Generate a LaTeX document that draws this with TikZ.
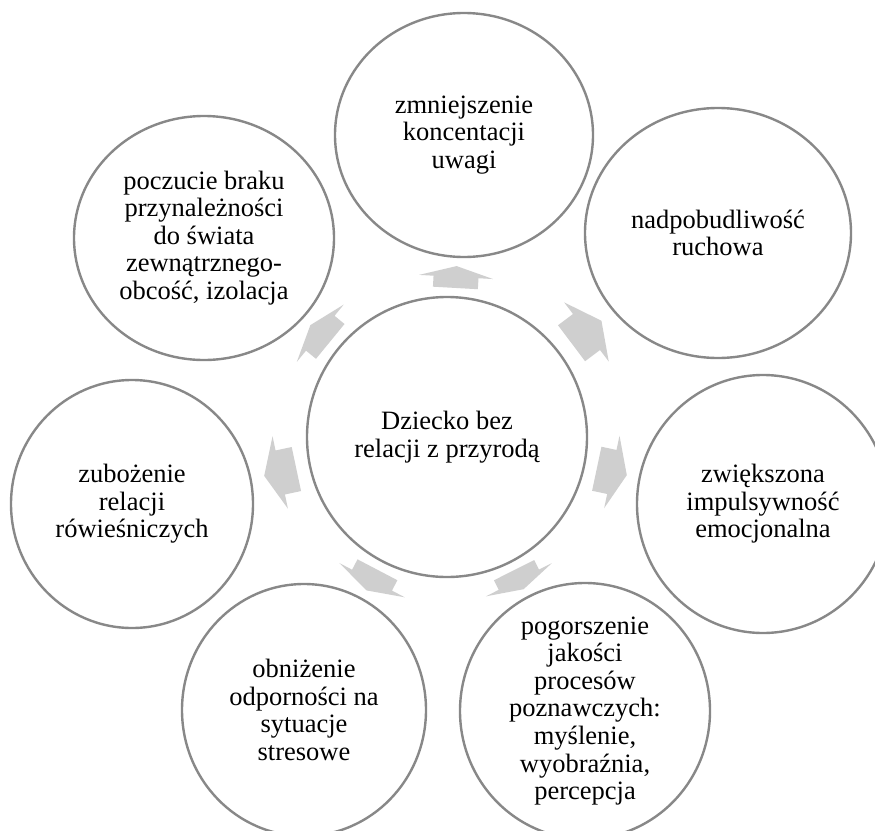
\documentclass[tikz,border=0pt]{standalone}
\usepackage{fontspec}
\setmainfont{Liberation Serif}
\usetikzlibrary{shapes.geometric,calc}
\definecolor{ringgray}{RGB}{136,136,136}
\definecolor{arrowgray}{RGB}{207,207,207}
\tikzset{
  ring/.style={draw=ringgray, line width=2.4pt, ellipse, inner sep=0pt},
  txt/.style={align=center, inner sep=0pt, font=\fontsize{26.5}{27.6}\selectfont},
  arrowshape/.style={fill=arrowgray}
}
% #1 from node, #2 to node, #3 tail, #4 head base, #5 tip (distances from #1 centre)
\newcommand\radarrow[5]{%
  \fill[arrowshape]
    ($(#1.center)!#3pt!(#2.center)!22.5pt!90:(#2.center)$) --
    ($(#1.center)!#4pt!(#2.center)!22.5pt!90:(#2.center)$) --
    ($(#1.center)!#4pt!(#2.center)!37pt!90:(#2.center)$) --
    ($(#1.center)!#5pt!(#2.center)$) --
    ($(#1.center)!#4pt!(#2.center)!37pt!-90:(#2.center)$) --
    ($(#1.center)!#4pt!(#2.center)!22.5pt!-90:(#2.center)$) --
    ($(#1.center)!#3pt!(#2.center)!22.5pt!-90:(#2.center)$) -- cycle;}
\begin{document}
\begin{tikzpicture}[x=1pt,y=-1pt]
\useasboundingbox (0,0) rectangle (875,830);
\fill[white] (0,0) rectangle (875,830);
% rings
\node[ring, minimum width=280pt, minimum height=280pt] (c)  at (447,437) {};
\node[ring, minimum width=258pt, minimum height=244pt] (t)  at (464,135) {};
\node[ring, minimum width=266pt, minimum height=250pt] (ur) at (718,233) {};
\node[ring, minimum width=252pt, minimum height=258pt] (r)  at (763,504) {};
\node[ring, minimum width=250pt, minimum height=256pt] (br) at (585,711) {};
\node[ring, minimum width=244pt, minimum height=252pt] (bl) at (304,710) {};
\node[ring, minimum width=242pt, minimum height=248pt] (l)  at (132,504) {};
\node[ring, minimum width=260pt, minimum height=244pt] (ul) at (204,238) {};
% texts
\node[txt] at (c.center)  {Dziecko bez\\relacji z przyrodą};
\node[txt] at (t.center)  {zmniejszenie\\koncentacji\\uwagi};
\node[txt] at (ur.center) {nadpobudliwość\\ruchowa};
\node[txt] at (r.center)  {zwiększona\\impulsywność\\emocjonalna};
\node[txt] at (br.center) {pogorszenie\\jakości\\procesów\\poznawczych:\\myślenie,\\wyobraźnia,\\percepcja};
\node[txt] at (bl.center) {obniżenie\\odporności na\\sytuacje\\stresowe};
\node[txt] at (l.center)  {zubożenie\\relacji\\rówieśniczych};
\node[txt] at (ul.center) {poczucie braku\\przynależności\\do świata\\zewnątrznego-\\obcość, izolacja};
% arrows
\radarrow{c}{t}{149.3}{160.3}{171.2}
\radarrow{c}{ur}{155.9}{174.6}{193.3}
\radarrow{c}{r}{153.1}{168.5}{183.8}
\radarrow{c}{br}{149.1}{159.8}{170.4}
\radarrow{c}{bl}{149.9}{161.6}{173.2}
\radarrow{c}{l}{154.0}{170.5}{186.9}
\radarrow{c}{ul}{150.9}{163.8}{176.6}
\end{tikzpicture}
\end{document}
